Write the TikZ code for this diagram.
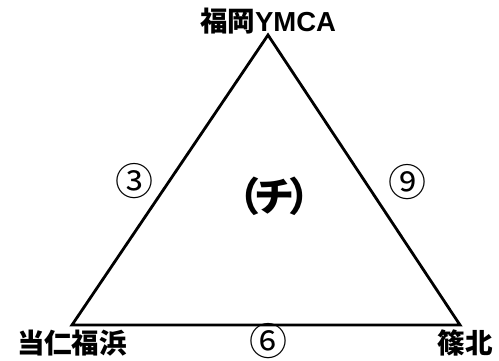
\documentclass[tikz,border=0pt]{standalone}
\usepackage{fontspec}
\newfontfamily\jp{Noto Sans CJK JP}
\newfontfamily\lat{Liberation Sans}
\begin{document}
\begin{tikzpicture}[x=1pt,y=-1pt,
  edge/.style={line width=2.8pt,line join=miter},
  place/.style={inner sep=0pt,font=\jp\bfseries\fontsize{27.5}{27.5}\selectfont},
  num/.style={inner sep=0pt,font=\jp\fontsize{38}{38}\selectfont},
  mid/.style={inner sep=0pt,font=\jp\bfseries\fontsize{40}{40}\selectfont}]
\useasboundingbox (0,0) rectangle (499,360);
\coordinate (A) at (268,35);
\coordinate (B) at (72,325);
\coordinate (C) at (460,325);
\draw[edge] (A) -- (B) -- (C) -- cycle;
\node[place] (top) at (268,21) {福岡{\lat\bfseries YMCA}};
\node[place] (bl) at (72,343) {当仁福浜};
\node[place] (br) at (465,343) {篠北};
\node[num] (n3) at (134,181) {③};
\node[num] (n9) at (407,182) {⑨};
\node[num] (n6) at (268,341) {⑥};
\node[mid] (c) at (274,196) {（\kern-6pt チ\kern-6pt ）};
\end{tikzpicture}
\end{document}
